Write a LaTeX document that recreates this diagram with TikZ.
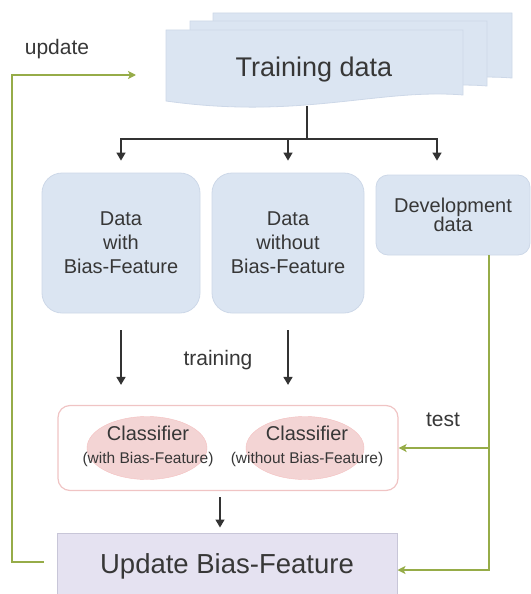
\documentclass[tikz,border=0pt]{standalone}
\usepackage{fontspec}
\setmainfont{Liberation Sans}
\usetikzlibrary{arrows.meta,calc,shapes.geometric}
\definecolor{boxfill}{RGB}{219,229,242}
\definecolor{boxline}{RGB}{205,216,232}
\definecolor{txt}{RGB}{55,55,55}
\definecolor{grn}{RGB}{150,172,72}
\definecolor{pinkline}{RGB}{240,196,196}
\definecolor{pinkfill}{RGB}{243,212,212}
\definecolor{updfill}{RGB}{229,226,241}
\definecolor{updline}{RGB}{200,198,216}
\tikzset{
  databox/.style={draw=boxline, fill=boxfill, rounded corners=20pt, align=center,
    font=\fontsize{20}{24}\selectfont, text=txt, line width=0.8pt},
  lbl/.style={font=\fontsize{21}{25}\selectfont, text=txt},
  blk/.style={draw=black!80, line width=1.5pt, -{Triangle[length=8pt,width=9pt]}},
  grnline/.style={draw=grn, line width=2pt},
  garr/.style={grnline, -{Stealth[length=8pt,width=8pt,inset=2pt]}},
  docshape/.style={draw=boxline, fill=boxfill, line width=0.8pt},
  clstext/.style={align=center, text=txt, inner sep=0pt, font=\fontsize{20}{23}\selectfont}
}
\begin{document}
\begin{tikzpicture}[x=1pt,y=-1pt]
\useasboundingbox (0,0) rectangle (530,594);
% stacked documents
\path[docshape] (213,13) -- (512,13) -- (512,78) .. controls (460,74) and (440,84) .. (400,88) -- (213,88) -- cycle;
\path[docshape] (190,21) -- (487,21) -- (487,86) .. controls (440,82) and (410,92) .. (380,96) -- (190,96) -- cycle;
\path[docshape] (166,30) -- (463,30) -- (463,95) .. controls (380,88) and (300,120) .. (166,101) -- cycle;
\node[font=\fontsize{27}{30}\selectfont, text=txt] (train) at (314,70) {Training data};
\coordinate (tdbot) at (307,106);
\coordinate (split) at (307,139);
% row of data boxes
\node[databox, minimum width=158pt, minimum height=140pt] (d1) at (121,243) {Data\\with\\Bias-Feature};
\node[databox, minimum width=152pt, minimum height=140pt] (d2) at (288,243) {Data\\without\\Bias-Feature};
\node[databox, rounded corners=12pt, minimum width=154pt, minimum height=80pt, font=\fontsize{20}{19}\selectfont] (dev) at (453,215) {Development\\data};
% tree arrows
\draw[draw=black!80, line width=1.5pt] (tdbot) -- (split);
\draw[blk] (split) -| ($(d1.north)+(0,-12)$);
\draw[blk] (split) -| ($(d2.north)+(0,-12)$);
\draw[blk] (split) -| ($(dev.north)+(-16,-14)$);
% classifier container
\node[draw=pinkline, fill=white, rounded corners=12pt, line width=1.2pt, minimum width=340pt, minimum height=85pt] (cls) at (228,448) {};
\node[ellipse, fill=pinkfill, draw=pinkfill!90!red, line width=0.4pt, minimum width=120pt, minimum height=63pt, inner sep=0pt] (e1) at (147,448) {};
\node[ellipse, fill=pinkfill, draw=pinkfill!90!red, line width=0.4pt, minimum width=118pt, minimum height=63pt, inner sep=0pt] (e2) at (305,448) {};
\node[clstext] (c1) at (148,446) {Classifier\\{\fontsize{15.5}{18}\selectfont (with Bias-Feature)}};
\node[clstext] (c2) at (307,446) {Classifier\\{\fontsize{15.5}{18}\selectfont (without Bias-Feature)}};
% training arrows
\draw[blk] ($(d1.south)+(0,17)$) -- ($(d1.south |- cls.north)+(0,-20)$);
\draw[blk] ($(d2.south)+(0,17)$) -- ($(d2.south |- cls.north)+(0,-20)$);
\node[lbl] (trainlbl) at (218,360) {training};
% update box
\node[draw=updline, fill=updfill, line width=1pt, minimum width=340pt, minimum height=72pt] (upd) at (227,569) {};
\node[font=\fontsize{27.5}{30}\selectfont, text=txt] (updtxt) at (227,566) {Update Bias-Feature};
\coordinate (clsout) at ($(cls.south)+(-8,6)$);
\draw[blk] (clsout) -- (clsout |- {$(upd.north)+(0,-5)$});
% green test lines
\coordinate (devb) at ($(dev.south)+(36,0)$);
\coordinate (br) at (devb |- cls.east);
\draw[garr] (devb) |- ($(upd.east)+(0,1)$);
\draw[garr] (br) -- (cls.east);
\node[lbl] (testlbl) at (443,420) {test};
% update loop
\coordinate (upstart) at ($(upd.west)+(-13,-7)$);
\coordinate (upend) at (136,75);
\draw[garr] (upstart) -- (12,562) -- (12,75) -- (upend);
\node[lbl] (updlbl) at (57,49) {update};
\end{tikzpicture}
\end{document}
